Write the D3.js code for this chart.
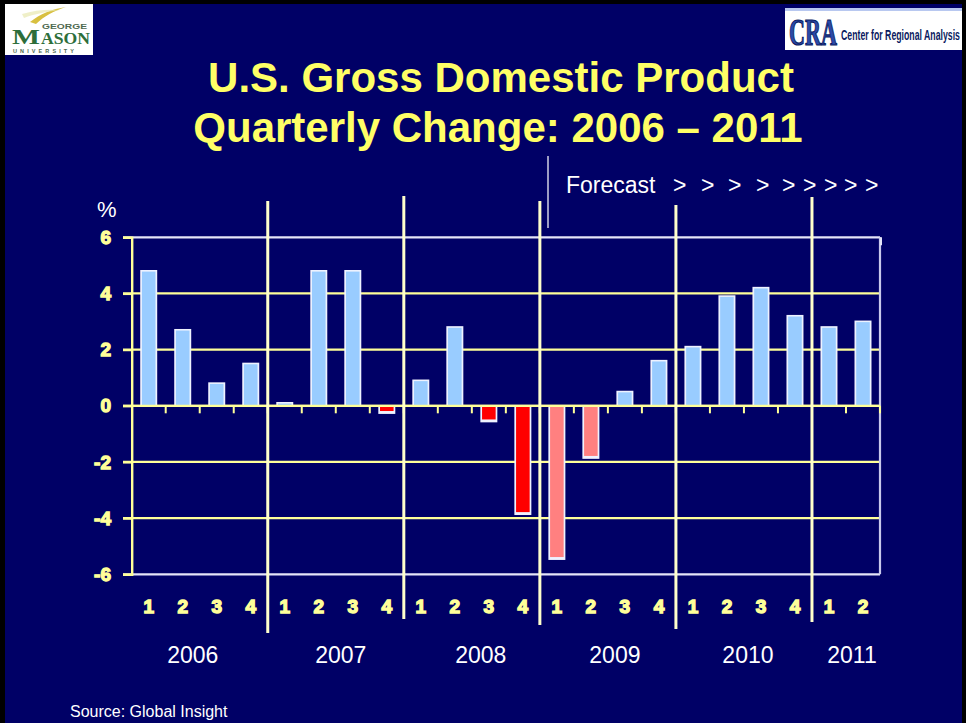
<!DOCTYPE html>
<html>
<head>
<meta charset="utf-8">
<script src="https://cdn.jsdelivr.net/npm/d3@7/dist/d3.min.js"></script>
<style>
  html, body { margin: 0; padding: 0; background: #000; }
  svg { display: block; }
</style>
</head>
<body>
<svg id="chart" width="966" height="723"></svg>
<script>
// ---------- DATA ----------
const years = ["2006", "2007", "2008", "2009", "2010", "2011"];
const quarterYears = ["2006","2006","2006","2006","2007","2007","2007","2007","2008","2008","2008","2008",
                      "2009","2009","2009","2009","2010","2010","2010","2010","2011","2011"];
const quarterLabels = ["1","2","3","4","1","2","3","4","1","2","3","4","1","2","3","4","1","2","3","4","1","2"];
const gdpChange = [4.8, 2.7, 0.8, 1.5, 0.1, 4.8, 4.8, -0.2, 0.9, 2.8, -0.5, -3.8,
                   -5.4, -1.8, 0.5, 1.6, 2.1, 3.9, 4.2, 3.2, 2.8, 3.0];
const yTickValues = [-6, -4, -2, 0, 2, 4, 6];
const yTickLabels = ["-6", "-4", "-2", "0", "2", "4", "6"];
const titleLines = ["U.S. Gross Domestic Product", "Quarterly Change: 2006 \u2013 2011"];
const forecastLabel = "Forecast";
const sourceLabel = "Source: Global Insight";

// ---------- STYLE / LAYOUT ----------
const NAVY = "#000066";
const YELLOW = "#ffff99";
const SEP = "#ffffcc";
const TITLE = "#ffff66";
const LBLUE = "#99ccff";
const RED = "#ff0000";
const PINK = "#ff8080";
const FRAME = "#e4e4f8";
const yearNudge = [-7, 5, 9, 7, 4, 6];   // horizontal nudge of year captions (layout)

const svg = d3.select("#chart");

// background & slide border
svg.append("rect").attr("width", 966).attr("height", 723).attr("fill", "#000");
svg.append("rect").attr("x", 5).attr("y", 4).attr("width", 957).attr("height", 719).attr("fill", NAVY);

// ---------- SCALES ----------
const idx = d3.range(gdpChange.length);
const X0 = 131.7, X1 = 880;
const x = d3.scaleBand().domain(idx).range([X0, X1]).paddingInner(0.53).paddingOuter(0.265);
const xb = d3.scaleBand().domain(idx).range([X0, X1]).padding(0);
const y = d3.scaleLinear().domain([-6, 6]).range([574.3, 237.3]);

// ---------- GRID ----------
const g = svg.append("g");
g.selectAll("line.grid").data(yTickValues).join("line")
  .attr("class", "grid")
  .attr("x1", 123).attr("x2", X1)
  .attr("y1", d => y(d)).attr("y2", d => y(d))
  .attr("stroke", d => (Math.abs(d) === 6 ? FRAME : YELLOW))
  .attr("stroke-width", 2.2);

// right frame line
g.append("line").attr("x1", X1).attr("x2", X1).attr("y1", y(6)).attr("y2", y(-6))
  .attr("stroke", "#c8c8ec").attr("stroke-width", 2.2);
g.append("line").attr("x1", X1 + 1).attr("x2", X1 + 1).attr("y1", y(6)).attr("y2", y(6) + 8)
  .attr("stroke", FRAME).attr("stroke-width", 2);

// ---------- BARS ----------
function barColor(i) {
  const v = gdpChange[i];
  if (v >= 0) return LBLUE;
  return (+quarterYears[i] >= 2009) ? PINK : RED;
}
const bars = svg.append("g");
bars.selectAll("rect.out").data(idx).join("rect")
  .attr("class", "out")
  .attr("x", i => x(i) - 0.5)
  .attr("width", x.bandwidth() + 1)
  .attr("y", i => gdpChange[i] >= 0 ? y(gdpChange[i]) - 1 : y(0))
  .attr("height", i => gdpChange[i] >= 0 ? y(0) - y(gdpChange[i]) + 1 : y(gdpChange[i]) - y(0) + 2.5)
  .attr("fill", "#eef2ff");
bars.selectAll("rect.in").data(idx).join("rect")
  .attr("class", "in")
  .attr("x", i => x(i) + 1.2)
  .attr("width", x.bandwidth() - 2.4)
  .attr("y", i => gdpChange[i] >= 0 ? y(gdpChange[i]) + 0.6 : y(0) + 1)
  .attr("height", i => Math.max(0.8, Math.abs(y(gdpChange[i]) - y(0)) - 1.4))
  .attr("fill", i => barColor(i));

// zero line on top of bars
svg.append("line").attr("x1", 123).attr("x2", X1).attr("y1", y(0)).attr("y2", y(0))
  .attr("stroke", YELLOW).attr("stroke-width", 2.2);

// small ticks below zero line at band boundaries
svg.append("g").selectAll("line").data(d3.range(1, gdpChange.length + 1)).join("line")
  .attr("x1", i => (i < gdpChange.length ? xb(i) : X1))
  .attr("x2", i => (i < gdpChange.length ? xb(i) : X1))
  .attr("y1", y(0)).attr("y2", y(0) + 7.5)
  .attr("stroke", YELLOW).attr("stroke-width", 2);

// ---------- Y AXIS ----------
const yAxis = d3.axisLeft(y).tickValues(yTickValues)
  .tickFormat((d, i) => yTickLabels[i]).tickSize(8.7).tickPadding(12);
const ya = svg.append("g").attr("transform", `translate(${X0},0)`).call(yAxis);
ya.select(".domain").attr("stroke", YELLOW).attr("stroke-width", 2.4);
ya.selectAll(".tick line").attr("stroke", YELLOW).attr("stroke-width", 2.2);
ya.selectAll(".tick text")
  .attr("fill", YELLOW).attr("stroke", YELLOW).attr("stroke-width", 1.3)
  .style("font-family", "'Liberation Sans', Arial, sans-serif")
  .style("font-weight", "bold").style("font-size", "19px");

// ---------- QUARTER LABELS ----------
const xAxis = d3.axisBottom(x).tickFormat(i => quarterLabels[i]).tickSize(0).tickPadding(0);
const xa = svg.append("g").attr("transform", "translate(0,599)").call(xAxis);
xa.select(".domain").remove();
xa.selectAll(".tick text")
  .attr("fill", YELLOW).attr("stroke", YELLOW).attr("stroke-width", 1.4)
  .style("font-family", "'Liberation Sans', Arial, sans-serif")
  .style("font-weight", "bold").style("font-size", "19px");

// ---------- YEAR SEPARATORS ----------
const sepData = [
  { i: 4, top: 201, bottom: 633 },
  { i: 8, top: 196, bottom: 619 },
  { i: 12, top: 201, bottom: 625 },
  { i: 16, top: 205, bottom: 629 },
  { i: 20, top: 197, bottom: 622 }
];
svg.append("g").selectAll("line").data(sepData).join("line")
  .attr("x1", d => xb(d.i)).attr("x2", d => xb(d.i))
  .attr("y1", d => d.top).attr("y2", d => d.bottom)
  .attr("stroke", SEP).attr("stroke-width", 3);

// ---------- YEAR LABELS ----------
svg.append("g").selectAll("text").data(years).join("text")
  .attr("x", (yr, k) => {
    const q = idx.filter(i => quarterYears[i] === yr);
    return (xb(q[0]) + xb(q[q.length - 1]) + xb.bandwidth()) / 2 + yearNudge[k];
  })
  .attr("y", 663)
  .attr("text-anchor", "middle")
  .attr("fill", "#ffffff")
  .style("font-family", "'Liberation Sans', Arial, sans-serif")
  .style("font-size", "23px")
  .text(d => d);

// ---------- TITLE ----------
svg.append("g").selectAll("text").data(titleLines).join("text")
  .attr("x", (d, i) => (i === 0 ? 501 : 498))
  .attr("y", (d, i) => 92 + i * 50)
  .attr("text-anchor", "middle")
  .attr("fill", TITLE)
  .style("font-family", "'Liberation Sans', Arial, sans-serif")
  .style("font-weight", "bold").style("font-size", "42px")
  .text(d => d);

// ---------- % label ----------
svg.append("text").attr("x", 97).attr("y", 217).attr("fill", "#fff")
  .style("font-family", "'Liberation Sans', Arial, sans-serif").style("font-size", "22px")
  .text("%");

// ---------- FORECAST ----------
svg.append("line").attr("x1", 548).attr("x2", 548).attr("y1", 156).attr("y2", 228)
  .attr("stroke", "#d0d0e4").attr("stroke-width", 1.5);
const fc = svg.append("text").attr("y", 193).attr("fill", "#fff")
  .style("font-family", "'Liberation Sans', Arial, sans-serif").style("font-size", "23px");
fc.append("tspan").attr("x", 566).text(forecastLabel);
[673, 701, 728, 756, 782, 803, 824, 844, 865].forEach(px => {
  fc.append("tspan").attr("x", px).text(">");
});

// ---------- SOURCE ----------
svg.append("text").attr("x", 70).attr("y", 717).attr("fill", "#fff")
  .style("font-family", "'Liberation Sans', Arial, sans-serif").style("font-size", "16px")
  .text(sourceLabel);

// helper: squeeze a text horizontally to a given width using a transform
function squeezedText(parent, tx, ty, width, str, styles) {
  const grp = parent.append("g");
  const t = grp.append("text").attr("x", 0).attr("y", 0).text(str);
  Object.entries(styles).forEach(([k, v]) => {
    if (k === "fill" || k === "stroke" || k === "stroke-width") t.attr(k, v); else t.style(k, v);
  });
  const w = t.node().getComputedTextLength() || width;
  grp.attr("transform", `translate(${tx},${ty}) scale(${width / w},1)`);
  return grp;
}

// ---------- GMU LOGO ----------
const gmu = svg.append("g");
gmu.append("rect").attr("x", 5).attr("y", 4).attr("width", 88).attr("height", 51).attr("fill", "#fff");
gmu.append("path").attr("d", "M30,22 C40,14 52,9 66,7 C54,11 44,16 36,24 Z").attr("fill", "#d8c040");
gmu.append("path").attr("d", "M22,14 C34,10 48,9 60,10 C46,12 34,14 24,18 Z").attr("fill", "#e8e8b0").attr("opacity", 0.7);
squeezedText(gmu, 42, 29, 45, "GEORGE", {
  "fill": "#506a50", "font-family": "'Liberation Sans', Arial, sans-serif", "font-weight": "bold", "font-size": "8px" });
squeezedText(gmu, 12, 44, 28, "M", {
  "fill": "#2d6e3a", "font-family": "'Liberation Serif', 'Times New Roman', serif", "font-weight": "bold", "font-size": "22px" });
squeezedText(gmu, 41, 44, 49, "ASON", {
  "fill": "#2d6e3a", "font-family": "'Liberation Serif', 'Times New Roman', serif", "font-weight": "bold", "font-size": "16px" });
gmu.append("text").attr("x", 13).attr("y", 53).attr("fill", "#506a50")
  .style("font-family", "'Liberation Sans', Arial, sans-serif").style("font-weight", "bold").style("font-size", "5.5px")
  .style("letter-spacing", "3.1px").text("UNIVERSITY");

// ---------- CRA LOGO ----------
const cra = svg.append("g");
cra.append("rect").attr("x", 785).attr("y", 8).attr("width", 177).attr("height", 42).attr("fill", "#fff");
cra.append("rect").attr("x", 785).attr("y", 8).attr("width", 177).attr("height", 3).attr("fill", "#b8c8f0");
squeezedText(cra, 789, 45, 48, "CRA", {
  "fill": "#2a4aa8", "stroke": "#0a1a60", "stroke-width": 1.2,
  "font-family": "'Liberation Serif', 'Times New Roman', serif", "font-weight": "bold", "font-size": "38px" });
squeezedText(cra, 841, 40, 119, "Center for Regional Analysis", {
  "fill": "#0a1a60", "font-family": "'Liberation Sans Narrow', 'Liberation Sans', Arial, sans-serif",
  "font-weight": "bold", "font-size": "14px" });
</script>
</body>
</html>
